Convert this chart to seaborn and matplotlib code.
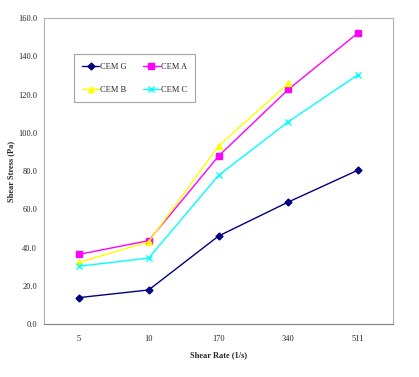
import seaborn as sns
import pandas as pd
import matplotlib.pyplot as plt
from matplotlib.ticker import FormatStrFormatter

# Data
shear_rate = ["5", "10", "170", "340", "511"]
cem_g = [13.8, 17.8, 46.0, 63.8, 80.5]
cem_a = [36.4, 43.6, 87.8, 122.7, 152.3]
cem_b = [32.2, 43.0, 93.1, 125.8, None]
cem_c = [30.2, 34.5, 77.7, 105.8, 130.4]

series = {"CEM G": cem_g, "CEM A": cem_a, "CEM B": cem_b, "CEM C": cem_c}
colors = {"CEM G": "#000080", "CEM A": "#FF00FF", "CEM B": "#FFFF00", "CEM C": "#00FFFF"}
markers = {"CEM G": "D", "CEM A": "s", "CEM B": "^", "CEM C": "x"}
sizes = {"CEM G": 3.5, "CEM A": 5, "CEM B": 5, "CEM C": 5}

rows = []
for name, vals in series.items():
    for rate, v in zip(shear_rate, vals):
        if v is not None:
            rows.append({"rate": rate, "stress": v, "mix": name})
df = pd.DataFrame(rows)

sns.set_style("white")
plt.rcParams['font.family'] = ['Liberation Serif', 'DejaVu Serif']

fig = plt.figure(figsize=(4.19, 3.77), dpi=100)
ax = fig.add_axes([0.105, 0.1406, 0.833, 0.8114])

for name in series:
    sub = df[df["mix"] == name]
    sns.lineplot(ax=ax, data=sub, x="rate", y="stress", color=colors[name],
                 marker=markers[name], markersize=sizes[name], markeredgecolor=colors[name],
                 markeredgewidth=1.0, linewidth=1.0, label=name, sort=False)

ax.set_xlim(-0.5, 4.5)
ax.set_ylim(0, 160)
ax.set_yticks(range(0, 161, 20))
ax.yaxis.set_major_formatter(FormatStrFormatter('%.1f'))
ax.set_xticks(range(len(shear_rate)))
ax.set_xticklabels(shear_rate)
ax.set_xticks([i - 0.5 for i in range(len(shear_rate) + 1)], minor=True)
ax.tick_params(axis='x', which='major', length=0, labelsize=6, pad=8)
ax.tick_params(axis='x', which='minor', length=4, width=0.8, color='#808080', direction='out')
ax.tick_params(axis='y', which='major', length=0, labelsize=6, pad=5)
ax.set_xlabel('Shear Rate (1/s)', fontweight='bold', fontsize=6, labelpad=6)
ax.set_ylabel('Shear Stress (Pa)', fontweight='bold', fontsize=6)
ax.yaxis.set_label_coords(-0.083, 0.5)

for s in ax.spines.values():
    s.set_color('#B0B0B0')
    s.set_linewidth(0.8)
ax.spines['bottom'].set_color('#808080')

# Legend order so rows read G A / B C
handles, labels = ax.get_legend_handles_labels()
lookup = dict(zip(labels, handles))
order = ["CEM G", "CEM B", "CEM A", "CEM C"]
leg = ax.legend([lookup[k] for k in order], order, ncol=2, loc='upper left',
                bbox_to_anchor=(0.086, 0.882), borderaxespad=0, fontsize=6,
                frameon=True, fancybox=False, edgecolor='#909090', handlelength=2.0,
                columnspacing=2.0, labelspacing=1.8, borderpad=1.0, handletextpad=0.1)
leg.get_frame().set_linewidth(0.8)

plt.savefig('out.png', dpi=100)
plt.close(fig)
